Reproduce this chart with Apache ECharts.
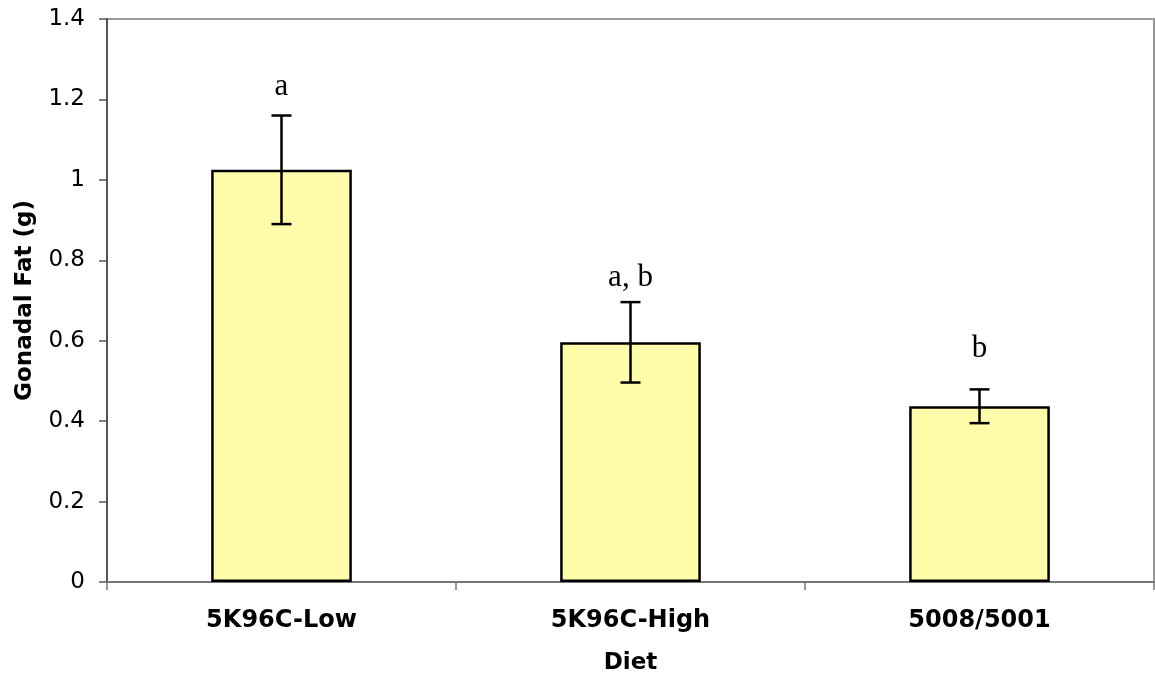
<!DOCTYPE html>
<html>
<head>
<meta charset="utf-8">
<script src="https://cdn.jsdelivr.net/npm/echarts@6/dist/echarts.min.js"></script>
<style>
  html, body { margin: 0; padding: 0; background: #fff; }
  #chart { width: 1155px; height: 676px; }
</style>
</head>
<body>
<div id="chart"></div>
<script>
// data
var diets = ['5K96C-Low', '5K96C-High', '5008/5001'];
var fatMeans = [1.025, 0.596, 0.437];
var fatErrors = [0.135, 0.100, 0.042];
var sigLetters = ['a', 'a, b', 'b'];
var letterHeights = [1.231, 0.756, 0.580];   // where the letters sit (g)
var yTicks = [0, 0.2, 0.4, 0.6, 0.8, 1, 1.2, 1.4];

var sans = '"DejaVu Sans", Verdana, sans-serif';

var errorData = fatMeans.map(function (m, i) {
    return [i, m - fatErrors[i], m + fatErrors[i]];
});
var letterData = letterHeights.map(function (h, i) {
    return [i, h];
});

var option = {
    animation: false,
    backgroundColor: '#fff',
    grid: {
        left: 107, right: 1, top: 19, bottom: 94,
        outerBoundsMode: 'none',
        show: true, borderColor: '#999', borderWidth: 2, backgroundColor: 'transparent'
    },
    xAxis: {
        type: 'category',
        data: diets,
        name: 'Diet',
        nameLocation: 'middle',
        nameGap: 70,
        nameTextStyle: { fontFamily: sans, fontWeight: 'bold', fontSize: 23, color: '#000' },
        axisLine: { lineStyle: { color: '#777', width: 2 } },
        axisTick: { show: true, alignWithLabel: false, length: 8, lineStyle: { color: '#777', width: 1.5 } },
        axisLabel: { fontFamily: sans, fontWeight: 'bold', fontSize: 24, color: '#000', margin: 27 },
        splitLine: { show: false }
    },
    yAxis: {
        type: 'value',
        min: 0, max: 1.4, interval: 0.2,
        name: 'Gonadal Fat (g)',
        nameLocation: 'middle',
        nameGap: 70,
        nameRotate: 90,
        nameTextStyle: { fontFamily: sans, fontWeight: 'bold', fontSize: 23, color: '#000' },
        axisLine: { show: true, lineStyle: { color: '#555', width: 2 } },
        axisTick: { show: true, inside: false, length: 8, lineStyle: { color: '#555', width: 1.5 } },
        axisLabel: {
            fontFamily: sans, fontSize: 23, color: '#000', margin: 22,
            formatter: function (v) {
                var t = yTicks.find(function (k) { return Math.abs(k - v) < 1e-6; });
                return t === undefined ? '' : String(t);
            }
        },
        splitLine: { show: false }
    },
    series: [
        {
            type: 'bar',
            data: fatMeans,
            barWidth: '40.3%',
            itemStyle: { color: '#FFFCAA', borderColor: '#000', borderWidth: 2.5 },
            z: 2
        },
        {
            type: 'custom',
            data: errorData,
            z: 3,
            renderItem: function (params, api) {
                var x = api.value(0);
                var lo = api.coord([x, api.value(1)]);
                var hi = api.coord([x, api.value(2)]);
                var cap = 10;
                var style = { stroke: '#000', lineWidth: 2.5 };
                return {
                    type: 'group',
                    children: [
                        { type: 'line', shape: { x1: hi[0], y1: hi[1], x2: lo[0], y2: lo[1] }, style: style },
                        { type: 'line', shape: { x1: hi[0] - cap, y1: hi[1], x2: hi[0] + cap, y2: hi[1] }, style: style },
                        { type: 'line', shape: { x1: lo[0] - cap, y1: lo[1], x2: lo[0] + cap, y2: lo[1] }, style: style }
                    ]
                };
            }
        },
        {
            type: 'custom',
            data: letterData,
            z: 4,
            renderItem: function (params, api) {
                var p = api.coord([api.value(0), api.value(1)]);
                return {
                    type: 'text',
                    x: p[0], y: p[1],
                    style: {
                        text: sigLetters[params.dataIndex],
                        fontFamily: '"Liberation Serif", "Times New Roman", serif',
                        fontSize: 31,
                        fill: '#000',
                        align: 'center',
                        verticalAlign: 'middle'
                    }
                };
            }
        }
    ]
};

echarts.init(document.getElementById('chart')).setOption(option);
</script>
</body>
</html>
